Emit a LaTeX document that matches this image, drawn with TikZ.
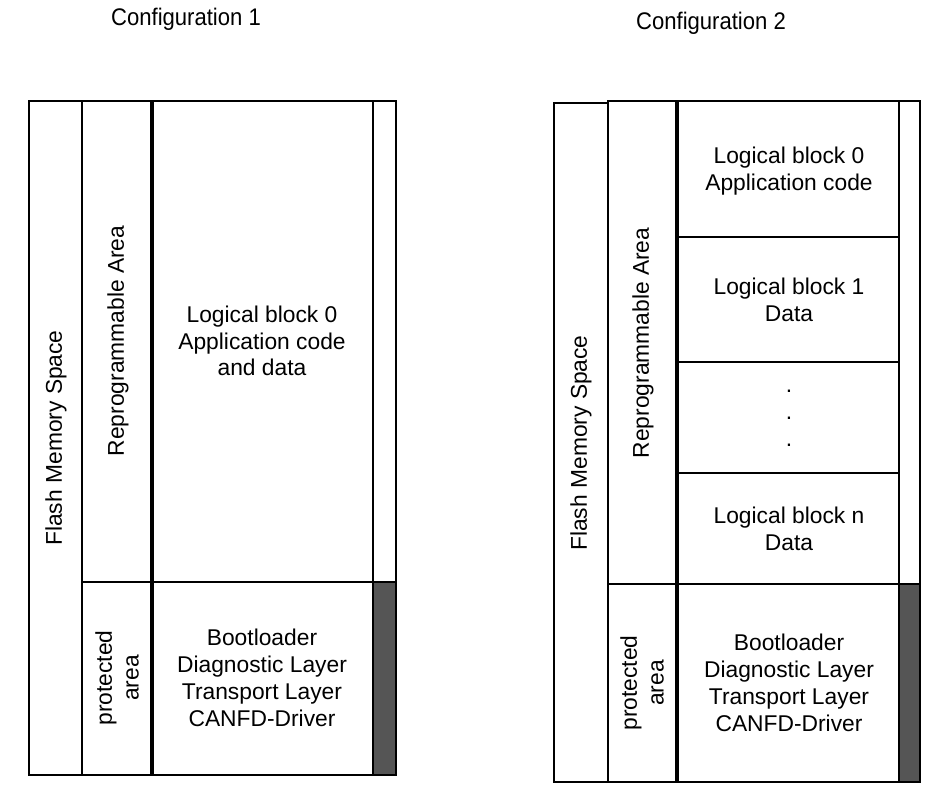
\documentclass[tikz,border=0pt]{standalone}
\usepackage{fontspec}
\setmainfont{Liberation Sans}
\definecolor{darkgrey}{RGB}{85,85,85}
\begin{document}
\begin{tikzpicture}[x=1pt,y=-1pt,
  frame/.style={draw=black, line width=2.9pt, line cap=rect},
  inner/.style={draw=black, line width=2.9pt},
  heavy/.style={draw=black, line width=4pt},
  divider/.style={draw=black, line width=2.3pt},
  txt/.style={font=\fontsize{22.8}{26.8}\selectfont, align=center, text=black, inner sep=0pt},
  ttl/.style={font=\fontsize{24}{28}\selectfont, xscale=0.92, text=black, inner sep=0pt},
  bar/.style={fill=darkgrey}]
\useasboundingbox (0,0) rectangle (937,791);
% ---------------- Configuration 1 ----------------
\node[ttl] (t1) at (186,19) {Configuration 1};
\fill[bar] (373,582) rectangle (396,775);
\draw[inner] (82,101) -- (82,775);
\draw[heavy] (152,101) -- (152,775);
\draw[divider] (373,101) -- (373,775);
\draw[divider] (82,582) -- (396,582);
\draw[frame] (29,101) rectangle (396,775);
\node[txt, rotate=90] (fms1) at (56,438) {Flash Memory Space};
\node[txt, rotate=90] (rep1) at (118,341) {Reprogrammable Area};
\node[txt, rotate=90] (pro1) at (117,678) {protected\\area};
\node[txt] (lb1) at (262,341) {Logical block 0\\Application code\\and data};
\node[txt] (bl1) at (262,678) {Bootloader\\Diagnostic Layer\\Transport Layer\\CANFD-Driver};
% ---------------- Configuration 2 ----------------
\node[ttl] (t2) at (711,23) {Configuration 2};
\fill[bar] (899,584) rectangle (920,782);
\draw[inner] (608,101) -- (608,782);
\draw[heavy] (677,101) -- (677,782);
\draw[divider] (899,101) -- (899,782);
\draw[divider] (677,237) -- (899,237);
\draw[divider] (677,362) -- (899,362);
\draw[divider] (677,473) -- (899,473);
\draw[divider] (608,584) -- (920,584);
\draw[frame] (554,103) -- (608,103);
\draw[frame] (554,103) -- (554,782) -- (920,782) -- (920,101) -- (608,101);
\node[txt, rotate=90] (fms2) at (581,443) {Flash Memory Space};
\node[txt, rotate=90] (rep2) at (643,343) {Reprogrammable Area};
\node[txt, rotate=90] (pro2) at (642,683) {protected\\area};
\node[txt] (b0) at (789,171) {Logical block 0\\Application code};
\node[txt] (b1) at (789,300) {Logical block 1\\Data};
\node[txt, font=\fontsize{22.8}{27}\selectfont] (dots) at (789,418) {.\\.\\.};
\node[txt] (bn) at (789,529) {Logical block n\\Data};
\node[txt] (bl2) at (789,683) {Bootloader\\Diagnostic Layer\\Transport Layer\\CANFD-Driver};
\end{tikzpicture}
\end{document}
